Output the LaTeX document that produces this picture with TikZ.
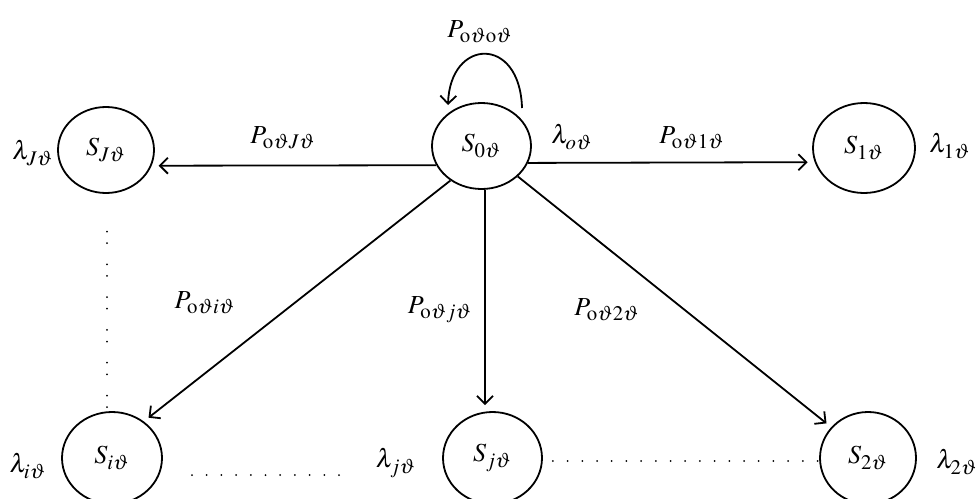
\documentclass[tikz,border=0pt]{standalone}
\usepackage{mathptmx}
\DeclareMathSizes{13}{13}{10.4}{8}
\usetikzlibrary{shapes.geometric,arrows.meta}
\begin{document}
\begin{tikzpicture}[x=0.5pt,y=-0.5pt,
  state/.style={draw,ellipse,line width=0.9pt,inner sep=0pt,font=\fontsize{13}{15}\selectfont},
  lbl/.style={inner sep=0pt,font=\fontsize{13}{15}\selectfont},
  arr/.style={line width=0.9pt,-{Straight Barb[length=4pt,width=8pt,line width=0.9pt]}},
  vdots/.style={line width=1pt,line cap=round,dash pattern=on 0pt off 5.8pt on 0pt off 10.6pt},
  hdots/.style={line width=1pt,line cap=round,dash pattern=on 0pt off 7.35pt}]
\useasboundingbox (0,0) rectangle (979,498);
\node[state,minimum width=49.5pt,minimum height=43pt] (S0) at (481.5,146) {$S_{0\vartheta}$};
\node[state,minimum width=48pt,minimum height=43pt] (SJ) at (106,150) {$S_{J\vartheta}$};
\node[state,minimum width=51pt,minimum height=45pt] (S1) at (864,148) {$S_{1\vartheta}$};
\node[state,minimum width=50pt,minimum height=46pt] (Si) at (112,458) {$S_{i\vartheta}$};
\node[state,minimum width=49.5pt,minimum height=46pt] (Sj) at (492.5,458) {$S_{j\vartheta}$};
\node[state,minimum width=48pt,minimum height=46pt] (S2) at (868,458) {$S_{2\vartheta}$};
% labels
\node[lbl] (l00) at (480,32) {$P_{\mathrm{o}\vartheta\mathrm{o}\vartheta}$};
\node[lbl] (l0) at (572,137) {$\lambda_{o\vartheta}$};
\node[lbl] (pJ) at (283,138) {$P_{\mathrm{o}\vartheta J\vartheta}$};
\node[lbl] (lJ) at (33,153) {$\lambda_{J\vartheta}$};
\node[lbl] (p1) at (692,138) {$P_{\mathrm{o}\vartheta 1\vartheta}$};
\node[lbl] (l1) at (950,146) {$\lambda_{1\vartheta}$};
\node[lbl] (pi) at (205,303) {$P_{\mathrm{o}\vartheta i\vartheta}$};
\node[lbl] (pj) at (440,310) {$P_{\mathrm{o}\vartheta j\vartheta}$};
\node[lbl] (p2) at (607,310) {$P_{\mathrm{o}\vartheta 2\vartheta}$};
\node[lbl] (li) at (28,466) {$\lambda_{i\vartheta}$};
\node[lbl] (lj) at (396,463) {$\lambda_{j\vartheta}$};
\node[lbl] (l2) at (957,462) {$\lambda_{2\vartheta}$};
% arrows
\draw[arr,shorten >=3.5pt] (S0.203.2) -- (SJ.341.6);
\draw[arr,shorten >=3.5pt] (S0.340.8) -- (S1.196.1);
\draw[arr,shorten >=3pt] (S0.228.8) -- (Si.49.3);
\draw[arr,shorten >=3pt] (S0.320) -- (S2.140.5);
\coordinate (vx) at (485,0);
\draw[arr,shorten >=3pt] (S0.south -| vx) -- (Sj.north -| vx);
% self loop
\coordinate (ls) at (522,108);
\coordinate (le) at (448,105);
\draw[arr] (ls) .. controls (520,35) and (450,38) .. (le);
% dotted lines
\coordinate (dv1) at (107,231.5);
\coordinate (dv2) at (107,412);
\draw[vdots] (dv1) -- (dv2);
\draw[hdots] (192,475) -- (340,475);
\draw[hdots] (Sj.east |- 0,461) ++(10,0) coordinate (h1) (h1) -- (S2.west |- 0,461);
\end{tikzpicture}
\end{document}
